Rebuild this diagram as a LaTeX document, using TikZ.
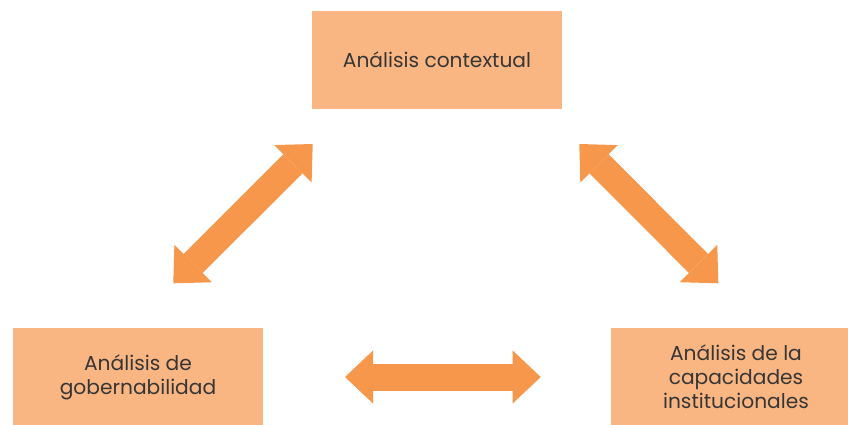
\documentclass[tikz,border=0pt]{standalone}
\usepackage{fontspec}
\setmainfont{Poppins}
\usetikzlibrary{arrows.meta,positioning}
\definecolor{boxfill}{HTML}{F9B582}
\definecolor{arrfill}{HTML}{F7974B}
\definecolor{txtcol}{HTML}{363636}
\tikzset{box/.style={fill=boxfill,minimum width=250pt,minimum height=98pt,inner sep=0pt,align=center,text=txtcol,font=\fontsize{20.2}{24}\selectfont},
 dbl/.style={draw=arrfill,line width=27pt,{Triangle[width=53pt,length=28pt,line width=0pt]}-{Triangle[width=53pt,length=28pt,line width=0pt]}}}

\begin{document}
\begin{tikzpicture}[x=1pt,y=-1pt]
\useasboundingbox (0,0) rectangle (848,424);
\clip (0,0) rectangle (848,424);
\node[box] (ctx) at (437,59.5) {Análisis contextual};
\node[box] (gob) at (138,377) {Análisis de\\gobernabilidad};
\node[box] (cap) at (736,377) {Análisis de la\\capacidades\\institucionales};
\coordinate (lt) at (312.7,144);\coordinate (lb) at (173.3,283.3);
\coordinate (rt) at (579.3,144);\coordinate (rb) at (718.3,283.3);
\coordinate (bl) at (345,377);\coordinate (br) at (540.7,377);
\draw[dbl] (lb)--(lt);\draw[dbl] (rt)--(rb);\draw[dbl] (bl)--(br);
\end{tikzpicture}
\end{document}
